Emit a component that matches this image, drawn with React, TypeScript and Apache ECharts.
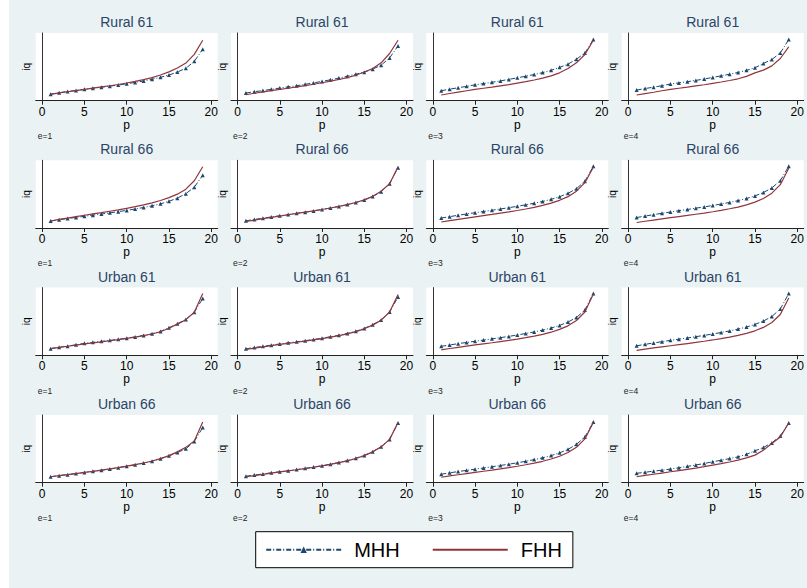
import React, { useEffect, useRef } from "react";
import * as echarts from "echarts";

// p values (x axis)
const P = [1, 2, 3, 4, 5, 6, 7, 8, 9, 10, 11, 12, 13, 14, 15, 16, 17, 18, 19];
const X_TICKS = [0, 5, 10, 15, 20];
const ROW_TITLES = ["Rural 61", "Rural 66", "Urban 61", "Urban 66"];
const COL_NOTES = ["e=1", "e=2", "e=3", "e=4"];
const SERIES_NAMES = ["MHH", "FHH"];

// Rural 61
const MHH_R61_E1 = [6.5, 8.0, 9.3, 10.3, 11.4, 12.5, 13.5, 14.6, 15.7, 17.0, 18.4, 19.8, 21.5, 23.5, 25.8, 28.8, 32.6, 39.5, 51.7];
const FHH_R61_E1 = [6.4, 7.8, 9.0, 10.2, 11.4, 12.6, 13.8, 15.0, 16.3, 17.8, 19.4, 21.2, 23.2, 25.8, 29.0, 32.8, 37.8, 46.5, 60.7];
const MHH_R61_E2 = [7.7, 9.0, 10.2, 11.4, 12.7, 13.9, 15.1, 16.4, 17.9, 19.4, 21.0, 22.7, 24.6, 26.6, 28.7, 31.7, 35.7, 43.0, 55.0];
const FHH_R61_E2 = [6.0, 7.5, 8.8, 10.1, 11.3, 12.5, 13.8, 15.1, 16.5, 18.0, 19.6, 21.3, 23.2, 25.6, 28.8, 32.4, 38.0, 47.4, 60.7];
const MHH_R61_E3 = [10.0, 11.6, 13.0, 14.4, 16.0, 17.2, 18.5, 19.9, 21.4, 23.0, 24.6, 26.3, 28.2, 30.5, 33.5, 36.7, 41.7, 48.0, 61.4];
const FHH_R61_E3 = [5.7, 7.2, 8.6, 10.0, 11.4, 12.5, 13.6, 14.9, 16.2, 17.7, 19.2, 20.8, 22.6, 25.0, 28.0, 32.4, 38.0, 46.4, 60.7];
const MHH_R61_E4 = [10.7, 12.2, 13.6, 15.1, 16.7, 17.9, 19.1, 20.4, 21.8, 23.4, 25.0, 26.6, 28.4, 30.5, 33.0, 37.4, 41.4, 48.0, 61.4];
const FHH_R61_E4 = [5.7, 7.1, 8.5, 10.0, 11.4, 12.5, 13.6, 14.8, 16.0, 17.4, 18.8, 20.3, 22.0, 24.4, 28.0, 30.7, 35.0, 42.4, 54.0];
// Rural 66
const MHH_R66_E1 = [7.0, 8.3, 9.5, 10.6, 11.8, 12.9, 14.0, 15.2, 16.4, 17.7, 19.1, 20.6, 22.3, 24.3, 26.8, 30.0, 34.5, 41.0, 53.0];
const FHH_R66_E1 = [7.0, 8.6, 10.0, 11.4, 12.8, 14.1, 15.4, 16.8, 18.2, 19.8, 21.4, 23.2, 25.2, 27.6, 30.5, 34.0, 39.0, 47.5, 61.5];
const MHH_R66_E2 = [7.2, 8.6, 9.9, 11.1, 12.3, 13.5, 14.7, 15.9, 17.2, 18.6, 20.1, 21.7, 23.5, 25.6, 28.2, 31.6, 36.5, 44.5, 60.5];
const FHH_R66_E2 = [6.5, 8.0, 9.4, 10.7, 12.0, 13.3, 14.6, 15.9, 17.2, 18.6, 20.1, 21.7, 23.5, 25.6, 28.2, 31.8, 37.0, 44.5, 61.5];
const MHH_R66_E3 = [10.0, 11.4, 12.8, 14.1, 15.4, 16.6, 17.8, 19.1, 20.4, 21.8, 23.3, 24.9, 26.7, 28.8, 31.4, 34.8, 39.5, 47.0, 62.0];
const FHH_R66_E3 = [6.0, 7.4, 8.7, 10.0, 11.2, 12.4, 13.6, 14.9, 16.2, 17.6, 19.1, 20.8, 22.7, 25.0, 27.8, 31.5, 37.0, 45.5, 61.0];
const MHH_R66_E4 = [10.5, 12.0, 13.4, 14.8, 16.1, 17.4, 18.6, 19.9, 21.2, 22.6, 24.1, 25.7, 27.5, 29.6, 32.2, 35.6, 40.3, 47.5, 62.0];
const FHH_R66_E4 = [5.5, 6.8, 8.0, 9.2, 10.4, 11.5, 12.6, 13.8, 15.0, 16.3, 17.7, 19.3, 21.0, 23.2, 26.0, 29.7, 35.0, 43.5, 60.0];
// Urban 61
const MHH_U61_E1 = [6.7, 8.0, 9.2, 10.6, 12.0, 13.0, 14.0, 15.0, 16.0, 17.2, 18.5, 20.0, 21.7, 24.0, 27.7, 31.7, 36.0, 43.3, 57.0];
const FHH_U61_E1 = [6.7, 7.9, 9.1, 10.3, 11.5, 12.5, 13.5, 14.6, 15.7, 17.0, 18.3, 19.7, 21.4, 23.7, 27.2, 31.3, 35.8, 43.3, 62.0];
const MHH_U61_E2 = [6.5, 7.8, 9.0, 10.2, 11.4, 12.5, 13.6, 14.7, 15.9, 17.2, 18.6, 20.2, 22.0, 24.2, 27.0, 30.8, 35.5, 43.5, 58.5];
const FHH_U61_E2 = [6.0, 7.3, 8.5, 9.7, 10.9, 12.0, 13.1, 14.3, 15.5, 16.8, 18.2, 19.8, 21.6, 23.8, 26.6, 30.3, 35.3, 43.5, 61.0];
const MHH_U61_E3 = [9.0, 10.4, 11.7, 12.9, 14.1, 15.3, 16.5, 17.7, 19.0, 20.4, 21.9, 23.5, 25.3, 27.4, 30.0, 33.4, 38.0, 45.5, 62.0];
const FHH_U61_E3 = [5.5, 6.8, 8.0, 9.2, 10.4, 11.5, 12.6, 13.8, 15.0, 16.3, 17.7, 19.3, 21.0, 23.2, 26.0, 29.6, 35.0, 43.5, 61.5];
const MHH_U61_E4 = [9.5, 11.0, 12.4, 13.7, 15.0, 16.2, 17.4, 18.7, 20.0, 21.4, 22.9, 24.5, 26.3, 28.4, 31.0, 34.4, 39.0, 46.5, 62.0];
const FHH_U61_E4 = [5.0, 6.2, 7.4, 8.5, 9.6, 10.7, 11.8, 12.9, 14.1, 15.4, 16.8, 18.3, 20.0, 22.0, 24.6, 28.0, 33.0, 41.0, 57.5];
// Urban 66
const MHH_U66_E1 = [6.0, 7.1, 8.1, 9.2, 10.3, 11.4, 12.5, 13.7, 15.0, 16.5, 18.0, 19.7, 21.6, 24.0, 27.0, 30.3, 34.0, 41.5, 55.4];
const FHH_U66_E1 = [6.0, 7.1, 8.1, 9.2, 10.3, 11.4, 12.6, 13.8, 15.1, 16.6, 18.1, 19.8, 21.8, 24.2, 27.2, 31.0, 35.5, 42.0, 61.0];
const MHH_U66_E2 = [6.5, 7.7, 8.8, 9.9, 11.0, 12.1, 13.2, 14.4, 15.7, 17.1, 18.6, 20.3, 22.2, 24.5, 27.4, 31.2, 36.0, 43.5, 60.0];
const FHH_U66_E2 = [6.0, 7.2, 8.4, 9.6, 10.8, 11.9, 13.0, 14.2, 15.5, 16.9, 18.4, 20.1, 22.0, 24.3, 27.2, 31.0, 36.0, 43.5, 60.5];
const MHH_U66_E3 = [8.5, 9.9, 11.2, 12.4, 13.6, 14.8, 16.0, 17.3, 18.6, 20.0, 21.5, 23.2, 25.0, 27.2, 30.0, 33.5, 38.5, 46.0, 61.0];
const FHH_U66_E3 = [5.5, 6.8, 8.0, 9.2, 10.4, 11.5, 12.6, 13.8, 15.1, 16.5, 18.0, 19.6, 21.5, 23.8, 26.6, 30.4, 35.5, 44.0, 60.5];
const MHH_U66_E4 = [9.4, 10.5, 11.6, 12.6, 13.7, 15.0, 16.4, 17.8, 19.3, 21.0, 22.6, 24.2, 26.0, 28.5, 32.0, 35.4, 40.0, 47.0, 60.0];
const FHH_U66_E4 = [6.0, 7.3, 8.5, 9.7, 11.0, 12.2, 13.4, 14.7, 16.1, 17.7, 19.2, 20.8, 22.6, 24.9, 27.7, 32.7, 39.4, 46.0, 60.0];

const MHH = [
  [MHH_R61_E1, MHH_R61_E2, MHH_R61_E3, MHH_R61_E4],
  [MHH_R66_E1, MHH_R66_E2, MHH_R66_E3, MHH_R66_E4],
  [MHH_U61_E1, MHH_U61_E2, MHH_U61_E3, MHH_U61_E4],
  [MHH_U66_E1, MHH_U66_E2, MHH_U66_E3, MHH_U66_E4],
];
const FHH = [
  [FHH_R61_E1, FHH_R61_E2, FHH_R61_E3, FHH_R61_E4],
  [FHH_R66_E1, FHH_R66_E2, FHH_R66_E3, FHH_R66_E4],
  [FHH_U61_E1, FHH_U61_E2, FHH_U61_E3, FHH_U61_E4],
  [FHH_U66_E1, FHH_U66_E2, FHH_U66_E3, FHH_U66_E4],
];

const FONT = "'Liberation Sans', Arial, Helvetica, sans-serif";
const NAVY = "#1a476f";
const MAROON = "#90353b";
const OFFSET_X = 9;
const COL_LEFT = [35.7, 231, 426.3, 621.7];
const ROW_TOP = [33, 160.3, 287.6, 415];
const PLOT_W = 182;
const PLOT_H = 67.7;

export default function App() {
  const ref = useRef<HTMLDivElement>(null);
  useEffect(() => {
    if (!ref.current) return;
    const chart = echarts.init(ref.current, null, { renderer: "svg" });
    const grids: any[] = [];
    const xAxes: any[] = [];
    const yAxes: any[] = [];
    const series: any[] = [];
    const graphics: any[] = [];
    for (let r = 0; r < 4; r++) {
      for (let c = 0; c < 4; c++) {
        const idx = r * 4 + c;
        const left = COL_LEFT[c] - OFFSET_X;
        const top = ROW_TOP[r];
        grids.push({
          left,
          top,
          width: PLOT_W,
          height: PLOT_H,
          show: true,
          backgroundColor: "#ffffff",
          borderWidth: 0,
          containLabel: false,
        });
        xAxes.push({
          type: "value",
          gridIndex: idx,
          min: -0.77,
          max: 20.77,
          name: "p",
          nameLocation: "middle",
          nameGap: 16,
          nameTextStyle: { fontFamily: FONT, fontSize: 12, color: "#000" },
          axisLine: { show: true, onZero: false, lineStyle: { color: "#222", width: 1 } },
          axisTick: { show: true, length: 4, customValues: X_TICKS, lineStyle: { color: "#222" } },
          axisLabel: { show: true, margin: 5, customValues: X_TICKS, fontFamily: FONT, fontSize: 12, color: "#000" },
          splitLine: { show: false },
        });
        yAxes.push({
          type: "value",
          gridIndex: idx,
          min: 0,
          max: 68,
          name: "iq",
          nameLocation: "middle",
          nameRotate: 90,
          nameGap: 4,
          nameTextStyle: { fontFamily: FONT, fontSize: 10, color: "#000" },
          axisLine: { show: true, lineStyle: { color: "#333", width: 1 } },
          axisTick: { show: false },
          axisLabel: { show: false },
          splitLine: { show: false },
        });
        series.push({
          type: "line",
          name: SERIES_NAMES[0],
          xAxisIndex: idx,
          yAxisIndex: idx,
          data: P.map((p, i) => [p, MHH[r][c][i]]),
          symbol: "triangle",
          symbolSize: 4,
          showSymbol: true,
          itemStyle: { color: NAVY },
          lineStyle: { color: NAVY, width: 1, type: [5, 2, 1, 2] },
          z: 2,
        });
        series.push({
          type: "line",
          name: SERIES_NAMES[1],
          xAxisIndex: idx,
          yAxisIndex: idx,
          data: P.map((p, i) => [p, FHH[r][c][i]]),
          symbol: "none",
          itemStyle: { color: MAROON },
          lineStyle: { color: MAROON, width: 1.2 },
          z: 3,
        });
        graphics.push({
          type: "text",
          x: left + PLOT_W / 2,
          y: top - 11,
          style: {
            text: ROW_TITLES[r],
            fontFamily: FONT,
            fontSize: 14,
            fontWeight: "normal",
            fill: "#2a4468",
            align: "center",
            verticalAlign: "middle",
          },
        });
        graphics.push({
          type: "text",
          x: left + 2,
          y: top + 103,
          style: {
            text: COL_NOTES[c],
            fontFamily: FONT,
            fontSize: 8.5,
            fontWeight: "normal",
            fill: "#222",
            align: "left",
            verticalAlign: "middle",
          },
        });
      }
    }
    chart.setOption({
      animation: false,
      backgroundColor: "#eaf2f3",
      grid: grids,
      xAxis: xAxes,
      yAxis: yAxes,
      series,
      graphic: graphics,
      legend: {
        data: [
          { name: SERIES_NAMES[0] },
          { name: SERIES_NAMES[1], itemStyle: { opacity: 0 } },
        ],
        left: 246.7,
        top: 531.7,
        orient: "horizontal",
        backgroundColor: "#ffffff",
        borderColor: "#000",
        borderWidth: 1,
        borderRadius: 0,
        padding: [8, 11, 8, 9.5],
        itemWidth: 75,
        itemHeight: 8,
        itemGap: 32,
        selectedMode: false,
        textStyle: { fontFamily: FONT, fontSize: 20, color: "#000", padding: [0, 0, 0, 8] },
      },
    });
    return () => chart.dispose();
  }, []);
  return (
    <div
      ref={ref}
      style={{ position: "absolute", left: OFFSET_X, top: 0, width: 798, height: 588 }}
    />
  );
}
